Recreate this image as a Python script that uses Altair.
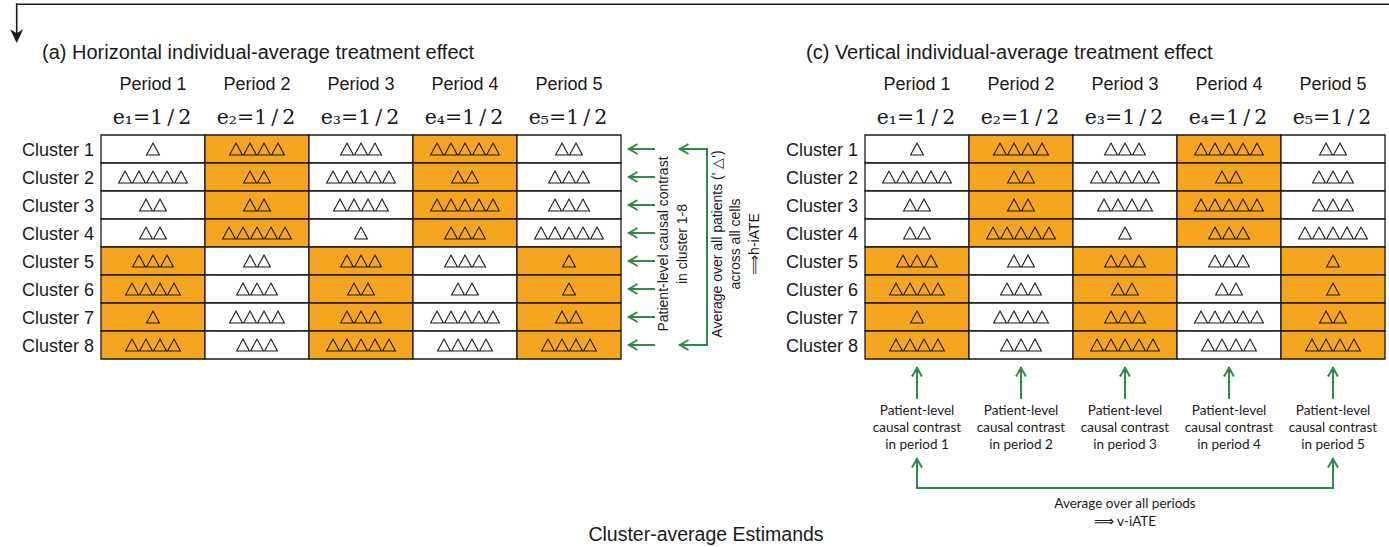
import altair as alt
import pandas as pd

# ---- stepped-wedge design: 8 clusters x 5 periods ----
periods = ["Period 1", "Period 2", "Period 3", "Period 4", "Period 5"]
exposure = ["e₁=1\u2009/\u20092", "e₂=1\u2009/\u20092", "e₃=1\u2009/\u20092",
            "e₄=1\u2009/\u20092", "e₅=1\u2009/\u20092"]
clusters = ["Cluster 1", "Cluster 2", "Cluster 3", "Cluster 4",
            "Cluster 5", "Cluster 6", "Cluster 7", "Cluster 8"]

# patients per cluster-period cell (rows: clusters, columns: periods)
patients = [
    [1, 4, 3, 5, 2],
    [5, 2, 5, 2, 3],
    [2, 2, 4, 5, 3],
    [2, 5, 1, 3, 5],
    [3, 2, 3, 3, 1],
    [4, 3, 2, 2, 1],
    [1, 4, 3, 5, 2],
    [4, 3, 5, 4, 4],
]
# 1 = treated cluster-period, 0 = control
treated = [
    [0, 1, 0, 1, 0],
    [0, 1, 0, 1, 0],
    [0, 1, 0, 1, 0],
    [0, 1, 0, 1, 0],
    [1, 0, 1, 0, 1],
    [1, 0, 1, 0, 1],
    [1, 0, 1, 0, 1],
    [1, 0, 1, 0, 1],
]

panel_titles = ["(a) Horizontal individual-average treatment effect",
                "(c) Vertical individual-average treatment effect"]
row_note = ["Patient-level causal contrast", "in cluster 1-8"]
row_avg_note = ["Average over all patients (' △')", "across all cells", "⟹h-iATE"]
period_note = ["Patient-level", "causal contrast"]
period_avg_note = ["Average over all periods", "⟹ v-iATE"]
figure_caption = "Cluster-average Estimands"

# ---- layout (pixels) ----
W, H = 1389, 547
PANEL_LEFT = [101, 865]
GRID_TOP = 135
COL_W = 104
ROW_H = 28
TRI_STEP = 14
ORANGE = "#F6A521"
GREEN = "#2E8B47"
INK = "#1A1A1A"
SANS = "Liberation Sans"

xs = alt.Scale(domain=[0, W], nice=False, zero=False)
ys = alt.Scale(domain=[0, H], nice=False, zero=False, reverse=True)
X = alt.X("x:Q", scale=xs, axis=None)
Y = alt.Y("y:Q", scale=ys, axis=None)

n_rows, n_cols = len(clusters), len(periods)
row_mid = [GRID_TOP + r * ROW_H + ROW_H / 2 for r in range(n_rows)]

cells, tris, col_heads, exp_heads, row_heads, titles = [], [], [], [], [], []
for p, left in enumerate(PANEL_LEFT):
    titles.append(dict(x=left - 59, y=58.5, text=panel_titles[p]))
    for c in range(n_cols):
        cx = left + c * COL_W + COL_W / 2
        col_heads.append(dict(x=cx, y=90, text=periods[c]))
        exp_heads.append(dict(x=cx - 1, y=124, text=exposure[c]))
    for r in range(n_rows):
        row_heads.append(dict(x=left - 7, y=row_mid[r] + 6.5, text=clusters[r]))
        for c in range(n_cols):
            x0 = left + c * COL_W
            y0 = GRID_TOP + r * ROW_H
            cells.append(dict(x=x0, x2=x0 + COL_W, y=y0, y2=y0 + ROW_H,
                              fill=ORANGE if treated[r][c] else "white"))
            n = patients[r][c]
            for k in range(n):
                tris.append(dict(x=x0 + COL_W / 2 + (k - (n - 1) / 2) * TRI_STEP,
                                 y=row_mid[r] + 0.5))

cells = pd.DataFrame(cells)
tris = pd.DataFrame(tris)

grid = alt.Chart(cells).mark_rect(stroke=INK, strokeWidth=1.3).encode(
    x=X, x2="x2:Q", y=Y, y2="y2:Q", fill=alt.Fill("fill:N", scale=None))

tri_path = "M0,-1L1,0.85L-1,0.85Z"
patients_layer = alt.Chart(tris).mark_point(
    shape=tri_path, size=164, filled=False, color=INK, strokeWidth=1.1, opacity=1
).encode(x=X, y=Y)


def text_layer(rows, **kw):
    return alt.Chart(pd.DataFrame(rows)).mark_text(**kw).encode(x=X, y=Y, text="text:N")


title_layer = text_layer(titles, align="left", baseline="alphabetic", font=SANS,
                         fontSize=20, color=INK)
period_layer = text_layer(col_heads, align="center", baseline="alphabetic", font=SANS,
                          fontSize=18, color=INK)
exp_layer = text_layer(exp_heads, align="center", baseline="alphabetic", font="DejaVu Serif",
                       fontSize=20.5, color=INK)
cluster_layer = text_layer(row_heads, align="right", baseline="alphabetic", font=SANS,
                           fontSize=18, color=INK)

# ---- horizontal panel: arrows per cluster and bracket ----
L = PANEL_LEFT[0] + n_cols * COL_W
row_arrows = pd.DataFrame([dict(x=L + 8, x2=L + 33, y=m, y2=m) for m in row_mid])
bracket_x = L + 86
row_bracket = pd.DataFrame([
    dict(x=bracket_x, x2=bracket_x, y=row_mid[0], y2=row_mid[-1]),
    dict(x=L + 59, x2=bracket_x, y=row_mid[0], y2=row_mid[0]),
    dict(x=L + 59, x2=bracket_x, y=row_mid[-1], y2=row_mid[-1]),
])
left_heads = pd.DataFrame([dict(x=L + 8, y=m) for m in row_mid] +
                          [dict(x=L + 59, y=row_mid[0]), dict(x=L + 59, y=row_mid[-1])])

# ---- vertical panel: arrows per period and bracket ----
R = PANEL_LEFT[1]
col_mid = [R + c * COL_W + COL_W / 2 for c in range(n_cols)]
grid_bottom = GRID_TOP + n_rows * ROW_H
col_arrows = pd.DataFrame([dict(x=m, x2=m, y=grid_bottom + 9, y2=grid_bottom + 39) for m in col_mid])
base_y = 488
col_bracket = pd.DataFrame([
    dict(x=col_mid[0], x2=col_mid[-1], y=base_y, y2=base_y),
    dict(x=col_mid[0], x2=col_mid[0], y=base_y - 29, y2=base_y),
    dict(x=col_mid[-1], x2=col_mid[-1], y=base_y - 29, y2=base_y),
])
up_heads = pd.DataFrame([dict(x=m, y=grid_bottom + 9) for m in col_mid] +
                        [dict(x=col_mid[0], y=base_y - 29), dict(x=col_mid[-1], y=base_y - 29)])


def rule_layer(df, color, width):
    return alt.Chart(df).mark_rule(color=color, strokeWidth=width, strokeCap="square").encode(
        x=X, x2="x2:Q", y=Y, y2="y2:Q")


def head_layer(df, path, size, color, width=2.0, filled=False):
    return alt.Chart(df).mark_point(shape=path, size=size, filled=filled, color=color,
                                    strokeWidth=width, opacity=1).encode(x=X, y=Y)


green_rules = rule_layer(pd.concat([row_arrows, row_bracket, col_arrows, col_bracket]), GREEN, 2)
left_head_layer = head_layer(left_heads, "M1.7,-1L0,0L1.7,1", 100, GREEN)
up_head_layer = head_layer(up_heads, "M-1,1.7L0,0L1,1.7", 100, GREEN)

# rotated notes beside the horizontal panel
rot_rows = [dict(x=L + 43, y=244, text=row_note[0]), dict(x=L + 62, y=244, text=row_note[1]),
            dict(x=L + 97, y=244, text=row_avg_note[0]), dict(x=L + 115, y=244, text=row_avg_note[1]),
            dict(x=L + 134, y=244, text=row_avg_note[2])]
rot_layer = text_layer(rot_rows, align="center", baseline="middle", angle=270, font=SANS,
                       fontSize=14, color=INK)

# notes under the vertical panel
under_rows = []
for c, m in enumerate(col_mid):
    under_rows += [dict(x=m, y=411, text=period_note[0]),
                   dict(x=m, y=428, text=period_note[1]),
                   dict(x=m, y=445, text=f"in period {c + 1}")]
under_rows += [dict(x=sum(col_mid) / n_cols, y=504, text=period_avg_note[0]),
               dict(x=sum(col_mid) / n_cols, y=522, text=period_avg_note[1])]
under_layer = text_layer(under_rows, align="center", baseline="middle", font="Lato",
                         fontSize=13.5, color=INK)

caption_layer = text_layer([dict(x=706, y=541, text=figure_caption)], align="center",
                           baseline="alphabetic", font=SANS, fontSize=19.5, color=INK)

# ---- connector arrow across the top ----
top_rules = rule_layer(pd.DataFrame([
    dict(x=16.7, x2=W, y=4.3, y2=4.3),
    dict(x=16.7, x2=16.7, y=4.3, y2=34),
]), INK, 1.6)
top_head = head_layer(pd.DataFrame([dict(x=16.7, y=43)]), "M0,0L-1,-2.1L0,-1.5L1,-2.1Z", 169,
                      INK, width=0, filled=True)

chart = alt.layer(
    grid, patients_layer, title_layer, period_layer, exp_layer, cluster_layer,
    green_rules, left_head_layer, up_head_layer, rot_layer, under_layer, caption_layer,
    top_rules, top_head,
).properties(width=W, height=H, padding=0, autosize="none").configure_view(stroke=None)

chart.save("out.html", embed_options={"renderer": "svg", "actions": False})
